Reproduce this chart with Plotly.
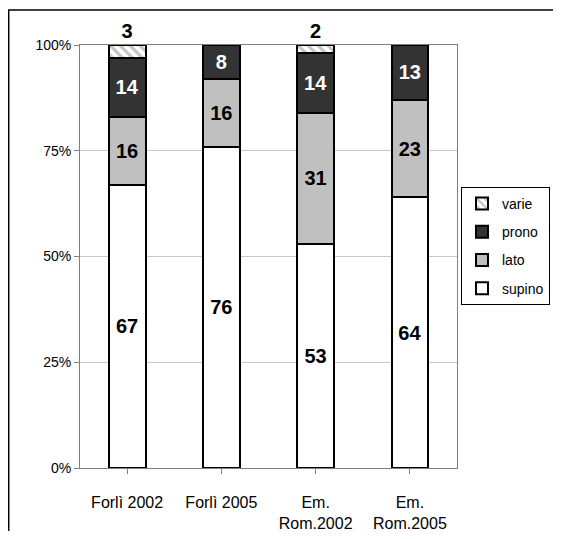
import plotly.graph_objects as go

categories = ["Forlì 2002", "Forlì 2005", "Em.<br>Rom.2002", "Em.<br>Rom.2005"]
supino = [67, 76, 53, 64]
lato = [16, 16, 31, 23]
prono = [14, 8, 14, 13]
varie = [3, 0, 2, 0]
y_ticks = [0, 25, 50, 75, 100]
y_ticklabels = ["0%", "25%", "50%", "75%", "100%"]

FONT = "Arial, Liberation Sans, sans-serif"
LBL = dict(family=FONT, size=20, color="black", weight="bold")

def labels(vals):
    return [str(v) if v else "" for v in vals]

# page body has an 8px margin; figure coordinates = reference pixels - 8
W, H = 545, 523
L, R, T, B = 72, 449, 37, 460

fig = go.Figure()
fig.add_trace(go.Bar(name="supino", x=categories, y=supino, text=labels(supino),
                     marker=dict(color="white", line=dict(color="black", width=2)),
                     textposition="inside", insidetextanchor="middle",
                     textfont=LBL, legendgroup="a", legendrank=4, width=0.39))
fig.add_trace(go.Bar(name="lato", x=categories, y=lato, text=labels(lato),
                     marker=dict(color="#C0C0C0", line=dict(color="black", width=2)),
                     textposition="inside", insidetextanchor="middle",
                     textfont=LBL, legendgroup="b", legendrank=3, width=0.39))
fig.add_trace(go.Bar(name="prono", x=categories, y=prono, text=labels(prono),
                     marker=dict(color="#333333", line=dict(color="black", width=2)),
                     textposition="inside", insidetextanchor="middle",
                     textfont=dict(family=FONT, size=20, color="white", weight="bold"),
                     legendgroup="c", legendrank=2, width=0.39))
fig.add_trace(go.Bar(name="varie", x=categories, y=varie, text=labels(varie),
                     marker=dict(color="white", line=dict(color="black", width=2),
                                 pattern=dict(shape="\\", fgcolor="#8a8a8a", bgcolor="white",
                                              size=7, solidity=0.45)),
                     textposition="outside", cliponaxis=False,
                     textfont=LBL, legendgroup="d", legendrank=1, width=0.39))

px = lambda v: (v - L) / (R - L)
py = lambda v: (B - v) / (B - T)

fig.update_layout(
    barmode="stack",
    width=W, height=H,
    margin=dict(l=L, r=W - R, t=T, b=H - B, autoexpand=False),
    paper_bgcolor="white", plot_bgcolor="white",
    font=dict(family=FONT, size=13, color="black"),
    showlegend=True,
    legend=dict(x=px(461 - 8), y=py(179), xanchor="left", yanchor="top",
                bordercolor="black", borderwidth=1, bgcolor="white",
                font=dict(family=FONT, size=14, color="black"),
                traceorder="grouped", tracegroupgap=7,
                itemwidth=30),
    xaxis=dict(showline=True, linecolor="#808080", linewidth=1, mirror=True,
               ticks="outside", ticklen=5, tickcolor="#808080",
               tickfont=dict(size=16), showgrid=False, ticklabelstandoff=15),
    yaxis=dict(range=[0, 100], tickvals=y_ticks, ticktext=y_ticklabels,
               showline=True, linecolor="#808080", linewidth=1, mirror=True,
               ticks="outside", ticklen=5, tickcolor="#808080",
               gridcolor="#c8c8c8", gridwidth=1, tickfont=dict(size=14),
               zeroline=False),
    shapes=[
        dict(type="line", xref="paper", yref="paper",
             x0=px(0), x1=px(W), y0=py(2), y1=py(2),
             line=dict(color="black", width=1.5), layer="below"),
        dict(type="line", xref="paper", yref="paper",
             x0=px(0.7), x1=px(0.7), y0=py(2), y1=py(H),
             line=dict(color="black", width=1.5), layer="below"),
    ],
)

fig.write_html("out.html")
